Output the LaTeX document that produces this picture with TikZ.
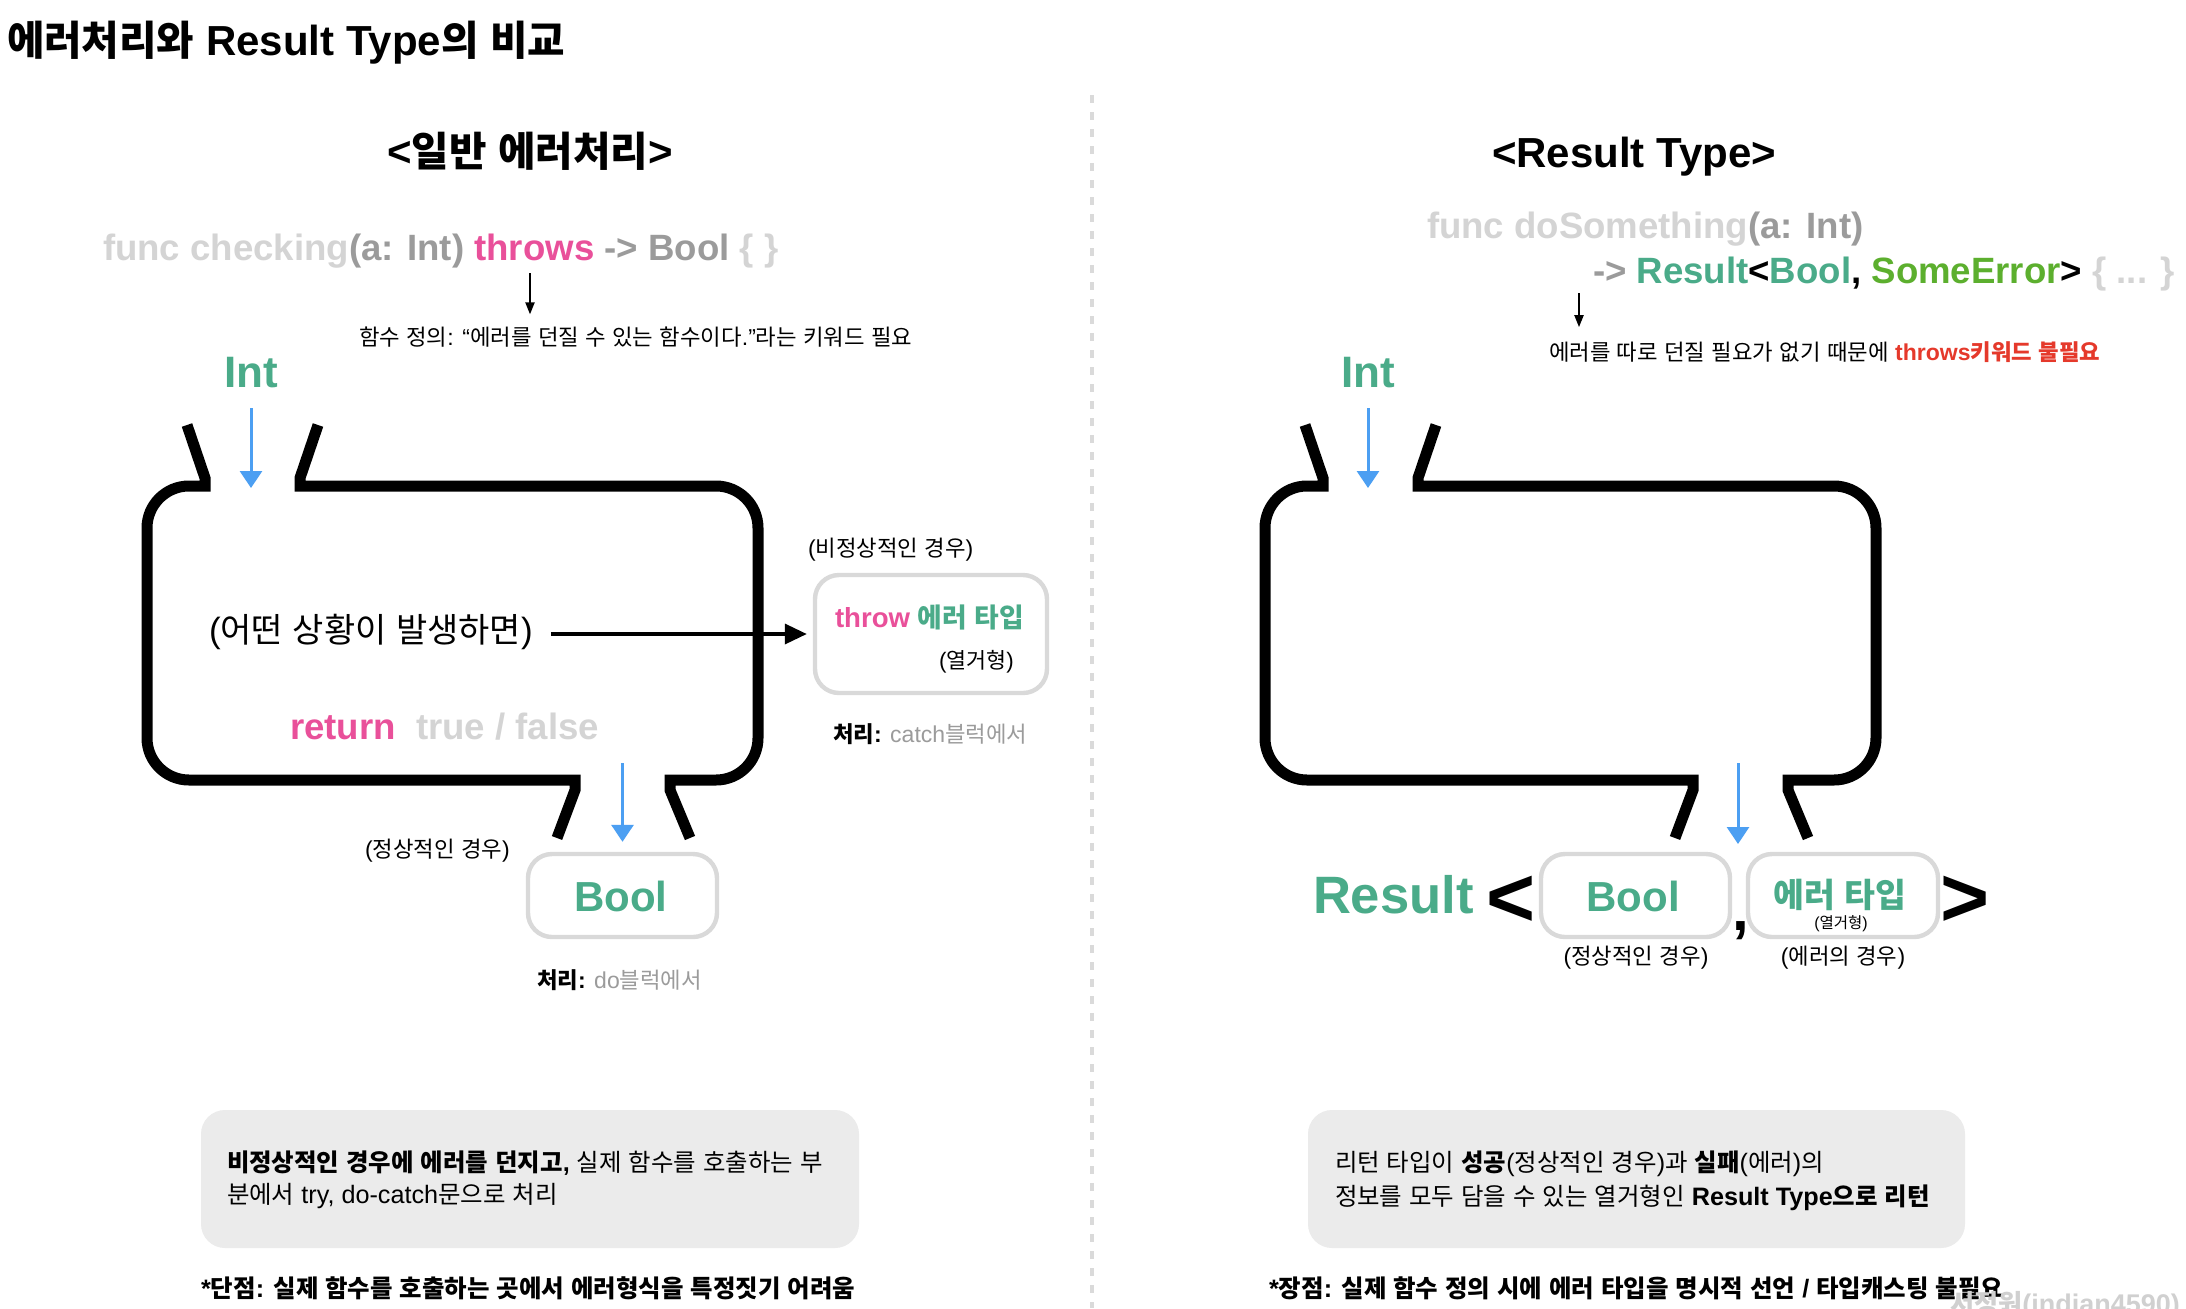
\documentclass[tikz,border=0pt]{standalone}
\usepackage{fontspec}
\setmainfont{Liberation Sans}
\newfontfamily\latinfam{Liberation Sans}
\newfontfamily\hangulfam{Noto Sans CJK KR}[Scale=0.97]
\usetikzlibrary{arrows.meta}
% automatic switch between Latin and Hangul fonts
\XeTeXinterchartokenstate=1
\chardef\HangulCls=10
\count255="AC00
\loop
  \XeTeXcharclass\count255=\HangulCls
  \ifnum\count255<"D7A3 \advance\count255 by 1
\repeat
\XeTeXinterchartoks 0 \HangulCls = {\hangulfam}
\XeTeXinterchartoks 4095 \HangulCls = {\hangulfam}
\XeTeXinterchartoks \HangulCls 0 = {\latinfam}
\XeTeXinterchartoks \HangulCls 4095 = {\latinfam}
\newcommand\fsz[1]{\fontsize{#1}{#1}\selectfont}
\definecolor{greenc}{HTML}{4AAB89}
\definecolor{pinkc}{HTML}{E9509A}
\definecolor{brightgreen}{HTML}{5CAF2E}
\definecolor{redc}{HTML}{E5392B}
\definecolor{lightcode}{HTML}{D4D4D4}
\definecolor{midgray}{HTML}{9B9B9B}
\definecolor{arrowblue}{HTML}{4C9FF2}
\definecolor{boxgray}{HTML}{D9D9D9}
\definecolor{notegray}{HTML}{EBEBEB}
\definecolor{dashgray}{HTML}{DADADA}
\definecolor{wm}{HTML}{D0D0D0}
\tikzset{
  tx/.style={inner sep=0pt, outer sep=0pt, anchor=base west},
  txc/.style={inner sep=0pt, outer sep=0pt, anchor=base},
  shapeline/.style={draw=black, line width=5.5pt, line join=miter, miter limit=10},
  bluearrow/.style={draw=arrowblue, line width=1.5pt, -{Triangle[length=8.5pt,width=11pt]}},
  thinarrow/.style={draw=black, line width=1pt, -{Triangle[length=6pt,width=4.5pt]}},
  mainarrow/.style={draw=black, line width=1.75pt, -{Triangle[length=11pt,width=10pt]}},
  graybox/.style={draw=boxgray, line width=2.2pt, rounded corners=12pt, inner sep=0pt},
  notebox/.style={fill=notegray, rounded corners=12pt, inner sep=0pt},
  dashline/.style={draw=dashgray, line width=2pt, dash pattern=on 4pt off 4.5pt},
  container/.pic={
    \draw[shapeline] (187,425) -- (205,478) -- (205,486) -- (189,486)
      .. controls (165.8,486) and (147,504.8) .. (147,528) -- (147,738)
      .. controls (147,761.2) and (165.8,780) .. (189,780) -- (575,780)
      -- (575,790) -- (557,838);
    \draw[shapeline] (318,425) -- (300,478) -- (300,486) -- (716,486)
      .. controls (739.2,486) and (758,504.8) .. (758,528) -- (758,738)
      .. controls (758,761.2) and (739.2,780) .. (716,780) -- (670,780)
      -- (670,790) -- (690,838);
  }
}
\begin{document}
\begin{tikzpicture}[x=0.5pt,y=-0.5pt]
\useasboundingbox (0,0) rectangle (2186,1308);
\fill[white] (0,0) rectangle (2186,1308);

% title and headings
\node[tx] (title) at (7,55) {\fsz{21pt}\bfseries 에러처리와 Result Type의 비교};
\node[txc] (hL) at (530,166) {\fsz{21pt}\bfseries <일반 에러처리>};
\node[txc] (hR) at (1634,167) {\fsz{21pt}\bfseries <Result Type>};
\draw[dashline] (1092,95) -- (1092,1308);

% ---------------- left ----------------
\node[tx] (codeL) at (103,260) {\fsz{18.3pt}\bfseries\color{lightcode}func checking\color{midgray}(a: Int) \color{pinkc}throws \color{midgray}-> Bool \color{lightcode}\{ \}};
\coordinate (thrL) at (530,273);
\node[tx] (defL) at (359,345) {\fsz{11.5pt}함수 정의: “에러를 던질 수 있는 함수이다.”라는 키워드 필요};
\draw[thinarrow, shorten >=6pt] (thrL) -- (thrL |- defL.north);

\node[txc] (intL) at (251,387) {\fsz{22pt}\bfseries\color{greenc}Int};
\coordinate (inL) at (251,488);
\draw[bluearrow, shorten <=10.5pt] (intL.south) -- (inL);

\pic at (0,0) {container};

\node[tx] (evL) at (209,642) {\fsz{17.5pt}(어떤 상황이 발생하면)};
\node[graybox, minimum width=116pt, minimum height=59pt] (throwbox) at (931,634) {};
\draw[mainarrow, shorten <=9pt, shorten >=3pt] (throwbox.west -| evL.east) -- (throwbox.west);
\node[tx] (abn) at (808,556) {\fsz{11.5pt}(비정상적인 경우)};
\node[tx] (throwtxt) at (835,627) {\fsz{13.8pt}\bfseries\color{pinkc}throw \color{greenc}에러 타입};
\node[tx] (enumL) at (939,668) {\fsz{11.2pt}(열거형)};
\node[tx] (catchL) at (833,742) {\fsz{11.5pt}{\bfseries 처리:} \color{midgray}catch블럭에서};
\node[tx] (ret) at (290,739) {\fsz{18.3pt}\bfseries\color{pinkc}return};
\node[tx] (tf) at (416,739) {\fsz{18.3pt}\bfseries\color{lightcode}true / false};

\node[graybox, minimum width=94.5pt, minimum height=41.5pt] (boolL) at (622.5,895.5) {};
\node[txc] (boolLt) at (621,911) {\fsz{21pt}\bfseries\color{greenc}Bool};
\coordinate (outL) at (622.5,763);
\draw[bluearrow, shorten >=5pt] (outL) -- (boolL.north);
\node[tx] (normL) at (365,857) {\fsz{11.5pt}(정상적인 경우)};
\node[tx] (doL) at (537,988) {\fsz{11.5pt}{\bfseries 처리:} \color{midgray}do블럭에서};

\node[notebox, minimum width=329pt, minimum height=69pt] (noteL) at (530,1179) {};
\node[tx] (noteL1) at (227,1171) {\fsz{12.6pt}{\bfseries 비정상적인 경우에 에러를 던지고,} 실제 함수를 호출하는 부};
\node[tx] (noteL2) at (227,1203) {\fsz{12.6pt}분에서 try, do-catch문으로 처리};
\node[tx] (conL) at (201,1297) {\fsz{12.6pt}\bfseries *단점: 실제 함수를 호출하는 곳에서 에러형식을 특정짓기 어려움};

% ---------------- right ----------------
\node[tx] (codeR1) at (1427,238) {\fsz{18.3pt}\bfseries\color{lightcode}func doSomething\color{midgray}(a: Int)};
\node[tx] (codeR2) at (1593,283) {\fsz{18.3pt}\bfseries\color{midgray}-> \color{greenc}Result\color{black}<\color{greenc}Bool\color{black}, \color{brightgreen}SomeError\color{black}> \color{lightcode}\{ ... \}};
\coordinate (thrR) at (1579,293);
\node[tx] (defR) at (1549,360) {\fsz{11.5pt}에러를 따로 던질 필요가 없기 때문에 {\bfseries\color{redc}throws키워드 불필요}};
\draw[thinarrow, shorten >=7pt] (thrR) -- (thrR |- defR.north);

\node[txc] (intR) at (1368,387) {\fsz{22pt}\bfseries\color{greenc}Int};
\coordinate (inR) at (1368,488);
\draw[bluearrow, shorten <=10.5pt] (intR.south) -- (inR);

\pic at (1118,0) {container};

\node[tx] (resR) at (1313,913) {\fsz{26.3pt}\bfseries\color{greenc}Result};
\node[tx] (ltR) at (1486,926) {\fsz{42pt}\bfseries <};
\node[graybox, minimum width=94.5pt, minimum height=41.5pt] (boolR) at (1635.5,895.5) {};
\node[txc] (boolRt) at (1633,911) {\fsz{21pt}\bfseries\color{greenc}Bool};
\node[tx] (comma) at (1732,930) {\fsz{30pt}\bfseries ,};
\node[graybox, minimum width=95pt, minimum height=41.5pt] (errR) at (1843,895.5) {};
\node[txc] (errRt) at (1840,907) {\fsz{17.3pt}\bfseries\color{greenc}에러 타입};
\node[txc] (enumR) at (1841,928) {\fsz{8pt}(열거형)};
\node[tx] (gtR) at (1940,926) {\fsz{42pt}\bfseries >};
\coordinate (outR) at (1738,763);
\coordinate (arrR) at (1738,844);
\draw[bluearrow] (outR) -- (arrR);
\node[txc] (normR) at (1636,964) {\fsz{11.5pt}(정상적인 경우)};
\node[txc] (errcase) at (1843,964) {\fsz{11.5pt}(에러의 경우)};

\node[notebox, minimum width=328.5pt, minimum height=69pt] (noteR) at (1636.5,1179) {};
\node[tx] (noteR1) at (1335,1171) {\fsz{12.6pt}리턴 타입이 {\bfseries 성공}(정상적인 경우)과 {\bfseries 실패}(에러)의};
\node[tx] (noteR2) at (1335,1205) {\fsz{12.6pt}정보를 모두 담을 수 있는 열거형인 {\bfseries Result Type으로 리턴}};
\node[tx] (proR) at (1269,1297) {\fsz{12.6pt}\bfseries *장점: 실제 함수 정의 시에 에러 타입을 명시적 선언 / 타입캐스팅 불필요};

\node[tx] (wmark) at (1950,1313) {\fsz{13.5pt}\bfseries\color{wm}서정원(indian4590)};
\end{tikzpicture}
\end{document}
